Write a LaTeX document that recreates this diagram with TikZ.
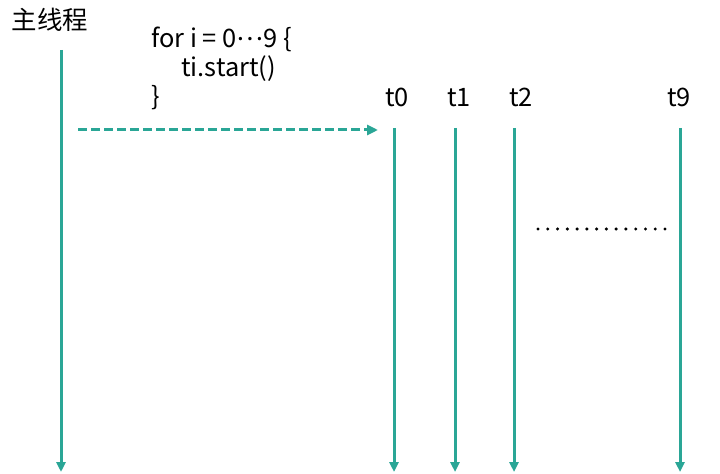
\documentclass[tikz,border=0pt]{standalone}
\usepackage{fontspec}
\setmainfont{Noto Sans CJK SC}
\usepackage{xcolor}
\usetikzlibrary{arrows.meta}
\definecolor{thread}{RGB}{42,166,150}

\begin{document}
\begin{tikzpicture}[x=1bp,y=-1bp,
	lbl/.style={font=\fontsize{25.5}{30}\selectfont,inner sep=0pt},
	life/.style={draw=thread,line width=3bp,-{Triangle[length=10bp,width=9bp]}}]
	\useasboundingbox (0,0) rectangle (720,474);
	% nodes
	\node[lbl,anchor=base] (M) at (50,30) {主线程};
	\node[lbl,anchor=base west] (L1) at (151,48) {for i = 0\raisebox{0.28em}{…}9 \{};
	\node[lbl,anchor=base west] (L2) at (181,77) {ti.start()};
	\node[lbl,anchor=base west] (L3) at (151,106) {\}};
	\node[lbl,anchor=base] (T0) at (397,107) {t0};
	\node[lbl,anchor=base] (T1) at (459,107) {t1};
	\node[lbl,anchor=base] (T2) at (521,107) {t2};
	\node[lbl,anchor=base] (T9) at (679,107) {t9};
	%
	\coordinate (M') at (61,50);
	\coordinate (M'') at (61,472);
	\coordinate (S) at (78,130);
	\coordinate (S') at (378,130);
	\coordinate (A') at (394,128);
	\coordinate (A'') at (394,472);
	\coordinate (B') at (455,128);
	\coordinate (B'') at (455,472);
	\coordinate (C') at (514,128);
	\coordinate (C'') at (514,472);
	\coordinate (D') at (680,128);
	\coordinate (D'') at (680,472);
	\coordinate (E) at (538,229);
	\coordinate (E') at (666,229);
	%
	\path
	% thread lines
	(M') edge[life] (M'')
	(A') edge[life] (A'')
	(B') edge[life] (B'')
	(C') edge[life] (C'')
	(D') edge[life] (D'')
	% start arrow
	(S) edge[life,dash pattern=on 9bp off 4bp,-{Triangle[length=11bp,width=10bp]}] (S');
	% gap
	\draw[line width=3.4bp,line cap=round,dash pattern=on 0bp off 9.77bp] (E) -- (E');
\end{tikzpicture}
\end{document}
